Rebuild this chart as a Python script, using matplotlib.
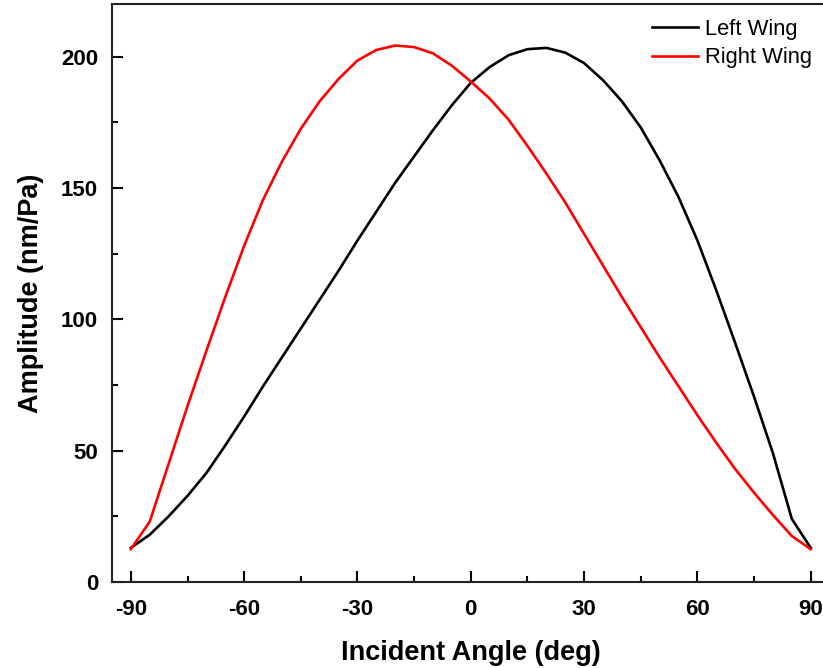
import matplotlib
matplotlib.use("Agg")
import matplotlib.pyplot as plt
from matplotlib.ticker import MultipleLocator

plt.rcParams['font.family'] = ['Liberation Sans', 'DejaVu Sans']
plt.rcParams['axes.unicode_minus'] = False

angles = list(range(-90, 95, 5))
left_wing = [13, 18, 25, 32.8, 41.5, 52, 63, 74.5, 85.5, 96.5, 107.5, 118.5, 130, 141,
             152, 162, 172, 181.5, 190, 196, 200.5, 202.8, 203.3, 201.5, 197.5,
             191, 183, 173, 160.5, 146.5, 130, 111, 91, 70.5, 49, 24, 13]
right_wing = [12.5, 23, 45, 67, 88, 108.5, 128, 145.5, 160, 172.5, 183, 191.5,
              198.5, 202.5, 204.2, 203.6, 201.2, 196.5, 190.5, 184, 176, 166,
              155.5, 144.5, 132.5, 120.5, 108.5, 97, 85.5, 74.5, 63.5, 53, 43,
              34, 25.5, 17.5, 12.5]
x_ticks = [-90, -60, -30, 0, 30, 60, 90]
y_ticks = [0, 50, 100, 150, 200]

W, H = 823, 668
fig = plt.figure(figsize=(W / 100, H / 100), dpi=100)
ax = fig.add_axes([112 / W, (H - 582) / H, (829.6 - 112) / W, (582 - 4) / H])

ax.plot(angles, left_wing, color='black', lw=1.9, label='Left Wing')
ax.plot(angles, right_wing, color='#ff0000', lw=1.9, label='Right Wing')

ax.set_xlim(-95, 95)
ax.set_ylim(0, 220)
ax.set_xticks(x_ticks)
ax.set_yticks(y_ticks)
ax.xaxis.set_minor_locator(MultipleLocator(15))
ax.yaxis.set_minor_locator(MultipleLocator(25))
ax.tick_params(which='both', direction='in', width=1.5, top=False, right=False)
ax.tick_params(which='major', length=8, labelsize=16)
ax.tick_params(axis='x', which='major', pad=12)
ax.tick_params(axis='y', which='major', pad=10)
ax.tick_params(which='minor', length=4)
for lab in ax.get_xticklabels() + ax.get_yticklabels():
    lab.set_fontweight('bold')
for s in ax.spines.values():
    s.set_linewidth(1.5)
    s.set_color('#222222')

ax.set_xlabel('Incident Angle (deg)', fontsize=19.5, fontweight='bold', labelpad=15)
ax.set_ylabel('Amplitude (nm/Pa)', fontsize=19.5, fontweight='bold', labelpad=12)

leg = ax.legend(loc='upper left', bbox_to_anchor=(652 / W, 1 - 19 / H),
                bbox_transform=fig.transFigure, frameon=False, fontsize=15.8,
                handlelength=2.1, handletextpad=0.3, labelspacing=0.33,
                borderpad=0, borderaxespad=0)

fig.savefig('out.png', dpi=100)
